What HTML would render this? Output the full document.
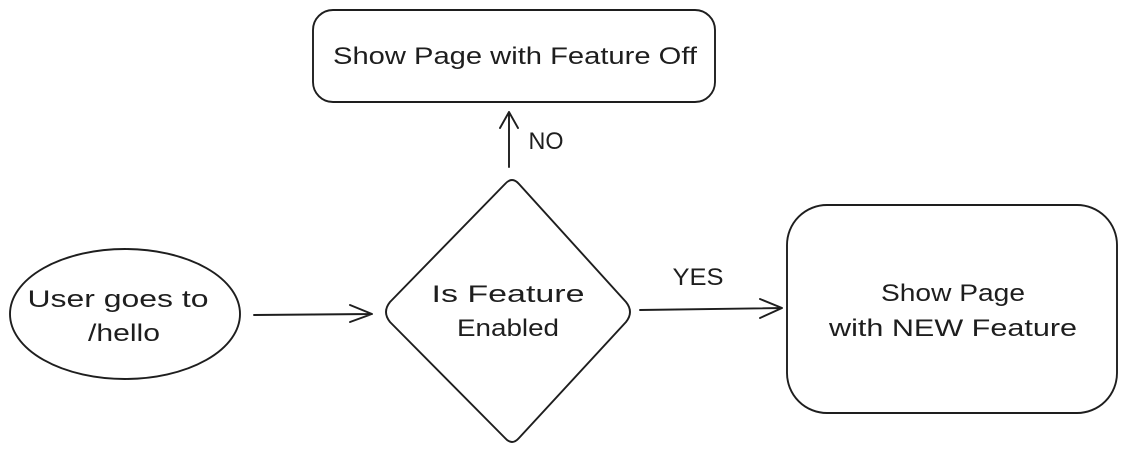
<!DOCTYPE html>
<html><head><meta charset="utf-8"><style>
html,body{margin:0;padding:0;background:#fff;}
svg{display:block;}
text{font-family:"Liberation Sans",sans-serif;font-size:24px;fill:#1e1e1e;text-anchor:middle;}
</style></head><body>
<svg width="1127" height="459" viewBox="0 0 1127 459" xmlns="http://www.w3.org/2000/svg">
<g fill="none" stroke="#1e1e1e" stroke-width="1.9" stroke-linecap="round" stroke-linejoin="round">
<rect x="313" y="10" width="402" height="92" rx="20"/>
<rect x="787" y="205" width="330" height="208" rx="40"/>
<ellipse cx="125" cy="314" rx="115" ry="65"/>
<path d="M505 184 Q512 176 519 184 L626 302 Q634 312 626 322 L519 438 Q512 446 505 438 L390 322 Q382 312 390 302 Z"/>
<path d="M509 167 L509 112 M500 128 L509 112 L518 128"/>
<path d="M254 315 L372 314 M350 305 L372 314 L350 322"/>
<path d="M640 310 L782 308 M760 299 L782 308 L760 318"/>
</g>
<text x="515" y="64" textLength="364" lengthAdjust="spacingAndGlyphs">Show Page with Feature Off</text>
<text x="546" y="149" textLength="35" lengthAdjust="spacingAndGlyphs">NO</text>
<text x="508" y="302" textLength="153" lengthAdjust="spacingAndGlyphs">Is Feature</text>
<text x="508" y="336" textLength="102" lengthAdjust="spacingAndGlyphs">Enabled</text>
<text x="118" y="307" textLength="181" lengthAdjust="spacingAndGlyphs">User goes to</text>
<text x="124" y="341" textLength="72" lengthAdjust="spacingAndGlyphs">/hello</text>
<text x="698" y="285" textLength="51" lengthAdjust="spacingAndGlyphs">YES</text>
<text x="953" y="301" textLength="144" lengthAdjust="spacingAndGlyphs">Show Page</text>
<text x="953" y="336" textLength="248" lengthAdjust="spacingAndGlyphs">with NEW Feature</text>
</svg>
</body></html>
